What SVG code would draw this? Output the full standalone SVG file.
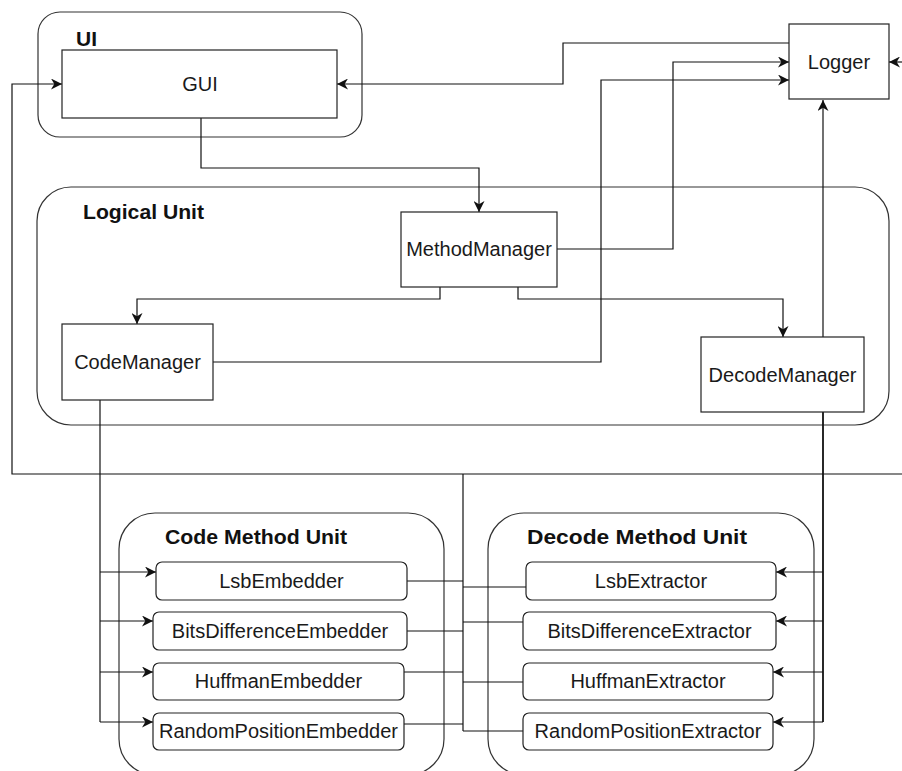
<svg xmlns="http://www.w3.org/2000/svg" width="902" height="771" viewBox="0 0 902 771">
<style>
  .container{fill:none;stroke:#333;stroke-width:1.2}
  .box{fill:#fff;stroke:#222;stroke-width:1.2}
  .txt{font-family:"Liberation Sans",Arial,sans-serif;font-size:20px;fill:#1a1a1a;text-anchor:middle}
  .title{font-family:"Liberation Sans",Arial,sans-serif;font-size:21px;font-weight:bold;fill:#111}
  .edge{fill:none;stroke:#111;stroke-width:1.2}
  .arr{marker-end:url(#ah)}
</style>
<defs>
  <marker id="ah" viewBox="0 0 10 10" refX="10" refY="5" markerWidth="11" markerHeight="11" markerUnits="userSpaceOnUse" orient="auto">
    <path d="M0,0 L10,5 L0,10 L3,5 Z" fill="#111"/>
  </marker>
</defs>
<rect width="902" height="771" fill="#fff"/>

<g id="ui-unit">
  <rect class="container" x="38" y="12" width="324" height="125" rx="22"/>
  <text class="title" x="76" y="46">UI</text>
</g>
<g id="logical-unit">
  <rect class="container" x="37" y="187" width="852" height="238" rx="34"/>
  <text class="title" x="83" y="219" textLength="121" lengthAdjust="spacingAndGlyphs">Logical Unit</text>
</g>
<g id="code-method-unit">
  <rect class="container" x="119" y="513" width="325" height="262" rx="36"/>
  <text class="title" x="165" y="544" textLength="182" lengthAdjust="spacingAndGlyphs">Code Method Unit</text>
</g>
<g id="decode-method-unit">
  <rect class="container" x="488" y="513" width="326" height="262" rx="36"/>
  <text class="title" x="527" y="544" textLength="220" lengthAdjust="spacingAndGlyphs">Decode Method Unit</text>
</g>

<g id="connectors">
  <path class="edge arr" d="M201,118 V168 H479 V212"/>
  <path class="edge arr" d="M789,43 H563 V84 H337"/>
  <path class="edge arr" d="M557,249 H673 V62 H789"/>
  <path class="edge arr" d="M213,362 H601 V80 H789"/>
  <path class="edge arr" d="M823,337 V100"/>
  <path class="edge arr" d="M440,287 V299 H137 V324"/>
  <path class="edge arr" d="M518,287 V299 H783 V337"/>
  <path class="edge arr" d="M902,62 H889"/>
  <path class="edge arr" d="M902,474 H12 V84 H62"/>
  <path class="edge" d="M463,474 V731"/>
  <path class="edge" d="M407,581 H463 M407,631 H463 M404,672 H463 M404,724 H463"/>
  <path class="edge" d="M463,587 H526 M463,622 H523 M463,682 H523 M463,731 H523"/>
  <path class="edge" d="M100,400 V722"/>
  <path class="edge arr" d="M100,572 H156"/>
  <path class="edge arr" d="M100,621 H153"/>
  <path class="edge arr" d="M100,672 H153"/>
  <path class="edge arr" d="M100,722 H153"/>
  <path class="edge" d="M823,412 V722" style="stroke-width:1.8"/>
  <path class="edge arr" d="M823,572 H776"/>
  <path class="edge arr" d="M823,621 H776"/>
  <path class="edge arr" d="M823,672 H773"/>
  <path class="edge arr" d="M823,722 H773"/>
</g>

<g id="gui">
  <rect class="box" x="62" y="50" width="275" height="68"/>
  <text class="txt" x="200" y="91">GUI</text>
</g>
<g id="logger">
  <rect class="box" x="789" y="24" width="100" height="75"/>
  <text class="txt" x="839" y="69">Logger</text>
</g>
<g id="method-manager">
  <rect class="box" x="401" y="212" width="156" height="75"/>
  <text class="txt" x="479" y="256">MethodManager</text>
</g>
<g id="code-manager">
  <rect class="box" x="62" y="324" width="151" height="76"/>
  <text class="txt" x="137.5" y="369">CodeManager</text>
</g>
<g id="decode-manager">
  <rect class="box" x="701" y="337" width="163" height="75"/>
  <text class="txt" x="782.5" y="382">DecodeManager</text>
</g>

<g id="lsb-embedder">
  <rect class="box" x="156" y="562" width="251" height="38" rx="6"/>
  <text class="txt" x="281.5" y="588">LsbEmbedder</text>
</g>
<g id="bits-difference-embedder">
  <rect class="box" x="153" y="612" width="254" height="38" rx="6"/>
  <text class="txt" x="280" y="638">BitsDifferenceEmbedder</text>
</g>
<g id="huffman-embedder">
  <rect class="box" x="153" y="663" width="251" height="37" rx="6"/>
  <text class="txt" x="278.5" y="688">HuffmanEmbedder</text>
</g>
<g id="random-position-embedder">
  <rect class="box" x="153" y="713" width="251" height="37" rx="6"/>
  <text class="txt" x="278.5" y="738">RandomPositionEmbedder</text>
</g>

<g id="lsb-extractor">
  <rect class="box" x="526" y="562" width="250" height="38" rx="6"/>
  <text class="txt" x="651" y="588">LsbExtractor</text>
</g>
<g id="bits-difference-extractor">
  <rect class="box" x="523" y="612" width="253" height="38" rx="6"/>
  <text class="txt" x="649.5" y="638">BitsDifferenceExtractor</text>
</g>
<g id="huffman-extractor">
  <rect class="box" x="523" y="663" width="250" height="37" rx="6"/>
  <text class="txt" x="648" y="688">HuffmanExtractor</text>
</g>
<g id="random-position-extractor">
  <rect class="box" x="523" y="713" width="250" height="37" rx="6"/>
  <text class="txt" x="648" y="738">RandomPositionExtractor</text>
</g>
</svg>
